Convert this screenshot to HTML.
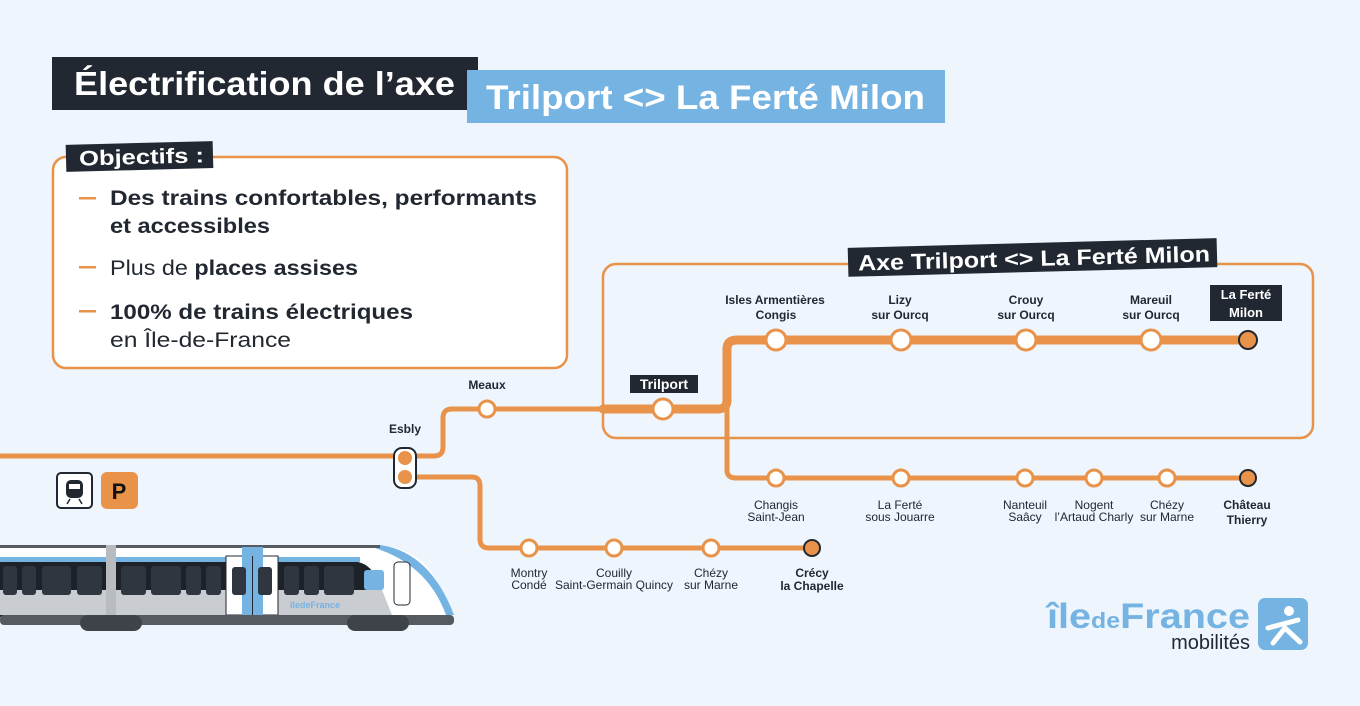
<!DOCTYPE html>
<html><head><meta charset="utf-8"><style>
body{margin:0;background:#eef5fc;font-family:"Liberation Sans",sans-serif}
</style></head><body>
<svg width="1360" height="701" viewBox="0 0 1360 701" xmlns="http://www.w3.org/2000/svg" font-family="Liberation Sans, sans-serif">
<rect width="1360" height="701" fill="#eef5fc"/>
<rect x="52" y="57" width="426" height="53" fill="#222831"/>
<text x="74" y="95" fill="#fff" font-size="33" font-weight="bold" textLength="381" lengthAdjust="spacingAndGlyphs">Électrification de l’axe</text>
<rect x="467" y="70" width="478" height="53" fill="#74b3e2"/>
<text x="486" y="109" fill="#fff" font-size="34" font-weight="bold" textLength="439" lengthAdjust="spacingAndGlyphs">Trilport &lt;&gt; La Ferté Milon</text>
<rect x="53" y="157" width="514" height="211" rx="13" fill="#fff" stroke="#e8924a" stroke-width="2.5"/>
<g transform="rotate(-1.5 139 157)"><rect x="66" y="143" width="147" height="27" fill="#222831"/>
<text x="79" y="164" fill="#fff" font-size="21" font-weight="bold" textLength="125" lengthAdjust="spacingAndGlyphs">Objectifs :</text></g>
<g fill="#e8924a"><rect x="79" y="197" width="17" height="2.5"/><rect x="79" y="266" width="17" height="2.5"/><rect x="79" y="310" width="17" height="2.5"/></g>
<g fill="#222831" font-size="21">
<text x="110" y="205" font-weight="bold" textLength="427" lengthAdjust="spacingAndGlyphs">Des trains confortables, performants</text>
<text x="110" y="233" font-weight="bold" textLength="160" lengthAdjust="spacingAndGlyphs">et accessibles</text>
<text x="110" y="275" textLength="248" lengthAdjust="spacingAndGlyphs">Plus de <tspan font-weight="bold">places assises</tspan></text>
<text x="110" y="319" font-weight="bold" textLength="303" lengthAdjust="spacingAndGlyphs">100% de trains électriques</text>
<text x="110" y="347" textLength="181" lengthAdjust="spacingAndGlyphs">en Île-de-France</text>
</g>
<rect x="603" y="264" width="710" height="174" rx="13" fill="none" stroke="#e8924a" stroke-width="2.5"/>
<g transform="rotate(-1.5 1032 257)"><rect x="848" y="243" width="369" height="29" fill="#222831"/>
<text x="858" y="266" fill="#fff" font-size="22" font-weight="bold" textLength="352" lengthAdjust="spacingAndGlyphs">Axe Trilport &lt;&gt; La Ferté Milon</text></g>
<g fill="none" stroke="#e8924a" stroke-linejoin="round" stroke-linecap="round">
<path d="M0 456 H434 Q443 456 443 447 V418 Q443 409 452 409 H720" stroke-width="5"/>
<path d="M416 477 H472 Q480 477 480 486 V539 Q480 548 489 548 H812" stroke-width="5"/>
<path d="M727 409 V470 Q727 478 736 478 H1248" stroke-width="5"/>
<path d="M603 409 H718 Q727 409 727 400 V349 Q727 340 737 340 H1248" stroke-width="9"/>
</g>
<rect x="394" y="448" width="22" height="40" rx="8" fill="#fff" stroke="#222831" stroke-width="2"/>
<circle cx="405" cy="458" r="7" fill="#e8924a"/><circle cx="405" cy="477" r="7" fill="#e8924a"/>
<g fill="#fff" stroke="#e8924a" stroke-width="3">
<circle cx="487" cy="409" r="8"/>
<circle cx="663" cy="409" r="10"/>
<circle cx="776" cy="340" r="10"/><circle cx="901" cy="340" r="10"/><circle cx="1026" cy="340" r="10"/><circle cx="1151" cy="340" r="10"/>
<circle cx="776" cy="478" r="8"/><circle cx="901" cy="478" r="8"/><circle cx="1025" cy="478" r="8"/><circle cx="1094" cy="478" r="8"/><circle cx="1167" cy="478" r="8"/>
<circle cx="529" cy="548" r="8"/><circle cx="614" cy="548" r="8"/><circle cx="711" cy="548" r="8"/>
</g>
<g fill="#e8924a" stroke="#222831" stroke-width="2">
<circle cx="1248" cy="340" r="9"/><circle cx="1248" cy="478" r="8"/><circle cx="812" cy="548" r="8"/>
</g>
<g fill="#222831" font-size="12" text-anchor="middle" font-weight="bold">
<text x="487" y="389">Meaux</text>
<text x="405" y="433">Esbly</text>
<text x="775" y="304">Isles Armentières</text><text x="776" y="319">Congis</text>
<text x="900" y="304">Lizy</text><text x="900" y="319">sur Ourcq</text>
<text x="1026" y="304">Crouy</text><text x="1026" y="319">sur Ourcq</text>
<text x="1151" y="304">Mareuil</text><text x="1151" y="319">sur Ourcq</text>
<text x="1247" y="509">Château</text><text x="1247" y="524">Thierry</text>
<text x="812" y="577">Crécy</text><text x="812" y="590">la Chapelle</text>
</g>
<g fill="#222831" font-size="12" text-anchor="middle">
<text x="776" y="509">Changis</text><text x="776" y="521">Saint-Jean</text>
<text x="900" y="509">La Ferté</text><text x="900" y="521">sous Jouarre</text>
<text x="1025" y="509">Nanteuil</text><text x="1025" y="521">Saâcy</text>
<text x="1094" y="509">Nogent</text><text x="1094" y="521">l’Artaud Charly</text>
<text x="1167" y="509">Chézy</text><text x="1167" y="521">sur Marne</text>
<text x="529" y="577">Montry</text><text x="529" y="589">Condé</text>
<text x="614" y="577">Couilly</text><text x="614" y="589">Saint-Germain Quincy</text>
<text x="711" y="577">Chézy</text><text x="711" y="589">sur Marne</text>
</g>
<rect x="630" y="375" width="68" height="18" fill="#222831"/>
<text x="664" y="389" fill="#fff" font-size="14" font-weight="bold" text-anchor="middle">Trilport</text>
<rect x="1210" y="285" width="72" height="36" fill="#222831"/>
<text x="1246" y="299" fill="#fff" font-size="13" font-weight="bold" text-anchor="middle">La Ferté</text>
<text x="1246" y="317" fill="#fff" font-size="13" font-weight="bold" text-anchor="middle">Milon</text>
<rect x="57" y="473" width="35" height="35" rx="4" fill="#fff" stroke="#222831" stroke-width="2"/>
<rect x="66" y="480" width="17" height="18" rx="5" fill="#222831"/>
<rect x="69" y="484" width="11" height="5" fill="#fff"/>
<path d="M67 504 L70 499 M82 504 L79 499" stroke="#222831" stroke-width="1.5"/>
<rect x="101" y="472" width="37" height="37" rx="6" fill="#e8924a"/>
<text x="119" y="499" fill="#111" font-size="22" font-weight="bold" text-anchor="middle">P</text>
<path d="M0 545 H380 Q430 550 445 600 L454 615 H0 Z" fill="#fff"/>
<path d="M380 545 Q430 552 454 615 L446 615 Q428 565 375 548 Z" fill="#74b3e2"/>
<rect x="0" y="545" width="380" height="3" fill="#555b61"/>
<rect x="0" y="557" width="360" height="5" fill="#74b3e2"/>
<path d="M0 562 H358 Q372 565 378 582 H0 Z" fill="#1d2228"/>
<rect x="0" y="582" width="380" height="35" fill="#1d2228"/>
<path d="M0 590 H382 L392 615 H0 Z" fill="#c9ccd0"/>
<g fill="#2f3640"><rect x="3" y="566" width="14" height="29" rx="3"/><rect x="22" y="566" width="14" height="29" rx="3"/><rect x="42" y="566" width="29" height="29" rx="3"/><rect x="77" y="566" width="25" height="29" rx="3"/><rect x="121" y="566" width="25" height="29" rx="3"/><rect x="151" y="566" width="30" height="29" rx="3"/><rect x="186" y="566" width="15" height="29" rx="3"/><rect x="206" y="566" width="15" height="29" rx="3"/><rect x="284" y="566" width="15" height="29" rx="3"/><rect x="304" y="566" width="15" height="29" rx="3"/><rect x="324" y="566" width="30" height="29" rx="3"/></g>
<rect x="106" y="545" width="10" height="72" fill="#b8bcc0"/>
<rect x="226" y="556" width="52" height="59" fill="#fff" stroke="#222831" stroke-width="1"/>
<rect x="242" y="547" width="21" height="68" fill="#74b3e2"/>
<rect x="252" y="556" width="1" height="59" fill="#222831"/>
<rect x="232" y="567" width="14" height="28" rx="3" fill="#2f3640"/><rect x="258" y="567" width="14" height="28" rx="3" fill="#2f3640"/>
<rect x="364" y="570" width="20" height="20" rx="3" fill="#74b3e2"/>
<rect x="394" y="562" width="16" height="43" rx="4" fill="#fff" stroke="#222831" stroke-width="1"/>
<text x="290" y="608" fill="#74b3e2" font-size="9" font-weight="bold">îledeFrance</text>
<rect x="0" y="615" width="454" height="10" rx="4" fill="#555b61"/>
<g fill="#3d4349"><rect x="80" y="615" width="62" height="16" rx="8"/><rect x="347" y="615" width="62" height="16" rx="8"/></g>
<text x="1047" y="628" fill="#74b3e2" font-size="35" font-weight="bold" textLength="203" lengthAdjust="spacingAndGlyphs">île<tspan font-size="22">de</tspan>France</text>
<text x="1250" y="649" fill="#222831" font-size="20" text-anchor="end">mobilités</text>
<rect x="1258" y="598" width="50" height="52" rx="7" fill="#74b3e2"/>
<circle cx="1289" cy="611" r="5" fill="#fff"/>
<path d="M1268 628 L1298 620 M1273 643 L1285 628 L1300 642" stroke="#fff" stroke-width="5" fill="none" stroke-linecap="round"/>
</svg>
</body></html>
